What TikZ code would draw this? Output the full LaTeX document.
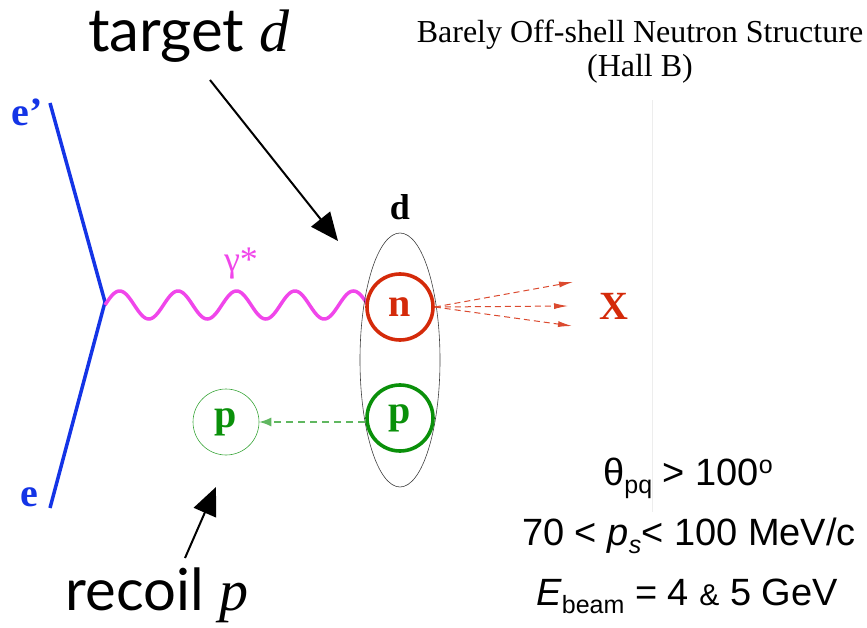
\documentclass[tikz,border=0pt]{standalone}
\usepackage{fontspec}
\usepackage{tikz}
\usetikzlibrary{arrows.meta, positioning, shapes.geometric}
\setmainfont{Liberation Serif}
\newfontfamily\arialf{Liberation Sans}
\newfontfamily\gillf{Lato}
\definecolor{elecblue}{HTML}{1434E6}
\definecolor{photonpink}{HTML}{F046EA}
\definecolor{neutronred}{HTML}{D42A0A}
\definecolor{protongreen}{HTML}{0A900A}
\newcommand{\fsz}[1]{\fontsize{#1}{#1}\selectfont}
\newcommand{\lowtxt}[1]{\raisebox{-0.22em}{\fsz{25}#1}}

\begin{document}
\begin{tikzpicture}[x=1pt, y=-1pt, >=Stealth]
    \tikzset{
        lbl/.style={font=\fsz{40}\bfseries, inner sep=0pt},
        nucleon/.style={circle, minimum size=66pt, line width=3.6pt, inner sep=0pt, font=\fsz{40}\bfseries},
        callout/.style={line width=2pt, -{Triangle[length=28pt, width=24pt]}},
        infotxt/.style={font=\arialf\fsz{38}, anchor=base, inner sep=0pt}
    }
    \useasboundingbox (0,0) rectangle (867,628);

    % ── headings ──────────────────────────────────────────────────────
    \node[font=\gillf\fsz{60}, anchor=base, inner sep=0pt] (tgtlbl) at (189,52) {target \textit{\rmfamily d}};
    \node[font=\fsz{32}, align=center, anchor=base, inner sep=0pt] (title) at (640,77)
        {Barely Off-shell Neutron Structure\\[2pt](Hall B)};
    \draw[black!7] (652,100) -- (652,512);

    % ── electron lines ────────────────────────────────────────────────
    \coordinate (eout) at (50,103);
    \coordinate (vtx) at (105,302);
    \coordinate (ein) at (50,508);
    \draw[elecblue, line width=3.5pt] (eout) -- (vtx) -- (ein);
    \node[lbl, text=elecblue] (eoutlbl) at (27,112) {e’};
    \node[lbl, text=elecblue] (einlbl) at (29,497) {e};

    % ── virtual photon ────────────────────────────────────────────────
    \draw[photonpink, line width=3.5pt] plot[domain=0:1, samples=240, smooth]
        ({105+263*\x}, {305-14*sin(4.5*360*\x)});
    \node[font=\fsz{36}, text=photonpink, inner sep=0pt] (gamlbl) at (241,264) {γ*};

    % ── deuteron ──────────────────────────────────────────────────────
    \node[ellipse, draw=black!75, line width=0.6pt, minimum width=80pt, minimum height=254pt] (deut) at (400,360) {};
    \node[lbl, font=\fsz{36}\bfseries] (dlbl) at (400,207) {d};
    \node[nucleon, draw=neutronred, text=neutronred] (neut) at (400,307) {n};
    \node[nucleon, draw=protongreen, text=protongreen] (prot) at (400,418) {p};
    \node[circle, minimum size=66pt, inner sep=0pt, draw=protongreen!80, line width=0.6pt,
          font=\fsz{40}\bfseries, text=protongreen] (recp) at (226,422) {p};

    % ── final state ───────────────────────────────────────────────────
    \node[lbl, text=neutronred] (xlbl) at (614,306) {X};
    \foreach \tx/\ty in {573/282, 568/306, 572/326}{
        \draw[neutronred!85, line width=1pt, dash pattern=on 6pt off 4pt,
              -{Latex[length=14pt, width=6pt]}] (neut.east) -- (\tx,\ty);
    }
    \draw[protongreen!65, line width=1.2pt, dash pattern=on 7pt off 5pt,
          -{Latex[length=12pt, width=9pt]}] (prot.west |- recp) -- (recp.east);

    % ── call-outs ─────────────────────────────────────────────────────
    \coordinate (tgtail) at (210,80);
    \coordinate (tgtip) at (338,241);
    \draw[callout] (tgtail) -- (tgtip);
    \node[font=\gillf\fsz{58}, anchor=base, inner sep=0pt] (reclbl) at (157,610) {recoil \textit{\rmfamily p}};
    \coordinate (rctail) at (185,558);
    \coordinate (rctip) at (216,487);
    \draw[callout] (rctail) -- (rctip);

    % ── kinematics ────────────────────────────────────────────────────
    \node[infotxt] (cut1) at (688,485) {θ\lowtxt{pq} > 100\raisebox{0.3em}{\fsz{25}o}};
    \node[infotxt] (cut2) at (689,545) {70 < \textit{p}\lowtxt{\textit{s}}< 100 MeV/c};
    \node[infotxt] (cut3) at (687,605) {\textit{E}\lowtxt{beam} = 4 {\fsz{30}\&} 5 GeV};
\end{tikzpicture}
\end{document}
